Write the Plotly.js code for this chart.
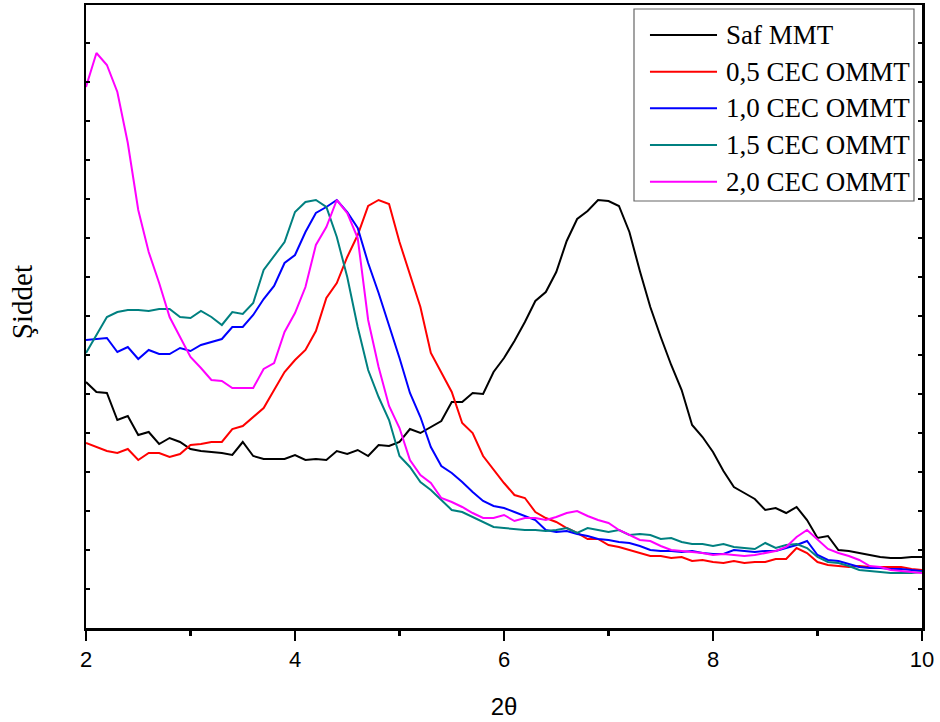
<!DOCTYPE html>
<html>
<head>
<meta charset="utf-8">
<script src="https://cdn.plot.ly/plotly-3.0.1.min.js"></script>
<style>html,body{margin:0;padding:0;background:#fff;} #chart{width:940px;height:722px;}</style>
</head>
<body>
<div id="chart"></div>
<script>
// 2θ values, step 0.1 from 2.0 to 10.0
const twoTheta = [2.0,2.1,2.2,2.3,2.4,2.5,2.6,2.7,2.8,2.9,3.0,3.1,3.2,3.3,3.4,3.5,3.6,3.7,3.8,3.9,
4.0,4.1,4.2,4.3,4.4,4.5,4.6,4.7,4.8,4.9,5.0,5.1,5.2,5.3,5.4,5.5,5.6,5.7,5.8,5.9,
6.0,6.1,6.2,6.3,6.4,6.5,6.6,6.7,6.8,6.9,7.0,7.1,7.2,7.3,7.4,7.5,7.6,7.7,7.8,7.9,
8.0,8.1,8.2,8.3,8.4,8.5,8.6,8.7,8.8,8.9,9.0,9.1,9.2,9.3,9.4,9.5,9.6,9.7,9.8,9.9,10.0];

const safMMT = [246,236,235,208,212,193,196,184,190,186,179,177,176,175,173,186,172,169,169,169,
173,168,169,168,177,174,178,172,183,182,186,199,195,201,207,226,226,235,234,256,
270,287,306,327,336,356,387,409,417,428,427,422,396,357,321,291,263,238,203,191,
176,157,141,135,129,118,120,115,121,108,90,92,78,77,75,73,71,70,70,71,71];

const cec05 = [185,181,177,175,179,168,175,175,171,174,183,184,186,186,199,202,211,220,238,256,
268,278,297,330,345,371,393,422,428,424,386,354,321,275,256,236,205,195,172,158,
145,133,130,116,110,106,100,95,89,89,83,81,78,75,72,72,70,71,67,68,
66,65,67,65,66,66,69,69,80,75,66,63,62,61,62,61,61,61,61,59,58];

const cec10 = [288,289,290,276,281,269,278,274,274,280,277,283,286,289,301,301,313,329,342,365,
373,396,415,421,428,416,400,365,335,303,270,235,211,181,162,155,146,136,127,122,
120,116,112,108,98,96,97,94,92,89,88,86,85,82,78,77,77,76,77,75,
74,74,78,77,76,77,77,80,83,87,73,68,67,64,61,60,60,59,59,58,57];

const cec15 = [275,293,311,316,318,318,317,319,319,311,310,317,311,303,316,314,325,358,372,386,
416,426,428,421,391,351,301,258,231,208,172,161,146,138,128,118,116,111,106,101,
100,99,98,98,97,98,100,95,100,98,96,98,93,94,93,89,90,86,84,84,
82,84,81,80,79,85,80,83,84,80,71,66,65,62,58,57,56,55,55,55,56];

const cec20 = [541,575,563,536,485,418,376,345,311,291,271,260,248,247,240,240,240,259,265,296,
315,341,383,401,428,415,390,308,261,222,200,168,153,145,130,126,121,115,110,110,
113,107,110,110,108,111,115,117,112,108,105,98,93,88,87,82,78,77,76,75,
73,74,73,72,73,75,77,81,91,98,88,79,75,72,68,62,61,58,57,56,55];

const seriesNames = ["Saf MMT","0,5 CEC OMMT","1,0 CEC OMMT","1,5 CEC OMMT","2,0 CEC OMMT"];
const seriesColors = ["#000000","#ff0000","#0000ff","#008080","#ff00ff"];
const seriesData = [safMMT, cec05, cec10, cec15, cec20];

const xTickVals = [2,4,6,8,10];
const xTickText = ["2","4","6","8","10"];

const traces = seriesData.map((d,i)=>({
  x: twoTheta, y: d, type:'scatter', mode:'lines', name: seriesNames[i],
  line:{color: seriesColors[i], width:2}
}));

// Legend drawn in paper coordinates (box, key lines, labels)
const legBox = {x0:0.6555, x1:0.9904, y0:0.6854, y1:0.9936};
const legKeyX = [0.6746, 0.7548];
const legTextX = 0.7632;
const legRowY = [0.9518, 0.8929, 0.8342, 0.7753, 0.7164];
const serif = 'Liberation Serif, Times New Roman, serif';

const shapes = [{type:'rect', xref:'paper', yref:'paper', x0:legBox.x0, x1:legBox.x1, y0:legBox.y0, y1:legBox.y1,
  line:{color:'#666', width:1.2}, fillcolor:'#fff', layer:'above'}];
const annotations = [];
seriesNames.forEach((n,i)=>{
  shapes.push({type:'line', xref:'paper', yref:'paper', x0:legKeyX[0], x1:legKeyX[1], y0:legRowY[i], y1:legRowY[i],
    line:{color:seriesColors[i], width:2}, layer:'above'});
  annotations.push({xref:'paper', yref:'paper', x:legTextX, y:legRowY[i], xanchor:'left', yanchor:'middle',
    text:n, showarrow:false, font:{family:serif, size:27, color:'#000'}});
});
annotations.push({xref:'paper', yref:'paper', x:-0.0766, y:0.523, xanchor:'center', yanchor:'middle',
  text:'Şiddet', textangle:-90, showarrow:false, font:{family:serif, size:29, color:'#000'}});

const layout = {
  width:940, height:722,
  margin:{l:86, r:18, t:5, b:94},
  paper_bgcolor:'#fff', plot_bgcolor:'#fff',
  showlegend:false,
  shapes: shapes,
  annotations: annotations,
  xaxis:{
    range:[2,10], tickvals:xTickVals, ticktext:xTickText,
    ticks:'outside', ticklen:10, tickwidth:2.5, tickcolor:'#000',
    minor:{dtick:1, tick0:2, ticks:'outside', ticklen:5, tickwidth:2.5, tickcolor:'#000', showgrid:false},
    showline:true, linecolor:'#000', linewidth:2.5, mirror:true,
    showgrid:false, zeroline:false,
    tickfont:{family:'Liberation Sans, Arial, sans-serif', size:22, color:'#000'},
    title:{text:'2θ', standoff:28, font:{family:'Liberation Sans, Arial, sans-serif', size:24, color:'#000'}}
  },
  xaxis2:{
    overlaying:'x', anchor:'y', side:'top', range:[2,10], dtick:1, tick0:2,
    ticks:'inside', ticklen:4, tickwidth:2, tickcolor:'#000',
    showticklabels:false, showline:false, showgrid:false, zeroline:false
  },
  yaxis:{
    range:[0,623], dtick:39, tick0:0,
    ticks:'inside', ticklen:4, tickwidth:2, tickcolor:'#000',
    showticklabels:false, showline:true, linecolor:'#000', linewidth:2.5, mirror:'ticks',
    showgrid:false, zeroline:false
  }
};

Plotly.newPlot('chart', traces, layout, {displayModeBar:false, staticPlot:true});
</script>
</body>
</html>
